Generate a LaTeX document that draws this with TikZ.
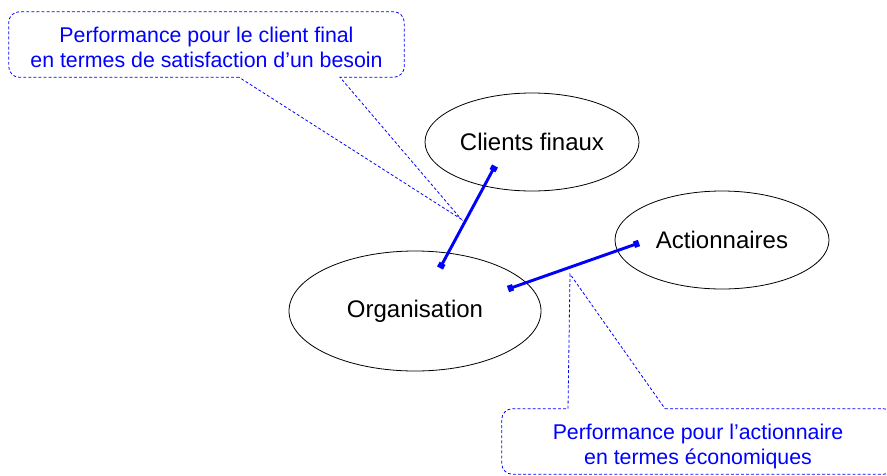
\documentclass[tikz,border=0pt]{standalone}
\usepackage{fontspec}
\setmainfont{Liberation Sans}
\usetikzlibrary{arrows.meta, calc, shapes.geometric}

\begin{document}
\begin{tikzpicture}[x=0.75pt, y=-0.75pt,
    actor/.style={draw, ellipse, line width=0.6pt, inner sep=0pt, font=\fontsize{18}{21.6}\selectfont},
    link/.style={draw=blue, line width=2.2pt, {Square[length=4pt,width=5pt]}-{Square[length=4pt,width=5pt]}},
    note/.style={text=blue, align=center, inner sep=0pt, font=\fontsize{16}{18.75}\selectfont},
    bubble/.style={draw=blue, line width=0.6pt, dash pattern=on 2.2pt off 1.6pt}]
    \useasboundingbox (0,0) rectangle (887,475);

    % les trois acteurs
    \node[actor, minimum width=160.5pt, minimum height=73.5pt] (clients) at (532,142) {Clients finaux};
    \node[actor, minimum width=189pt, minimum height=90pt] (org) at (415,311) {Organisation};
    \node[actor, minimum width=160.5pt, minimum height=73.5pt] (action) at (722,240) {Actionnaires};

    % relations
    \coordinate (org-cl) at ($(org.center)+(25,-43)$);
    \coordinate (cl-org) at ($(clients.center)+(-37,24)$);
    \coordinate (org-act) at ($(org.center)+(93,-22)$);
    \coordinate (act-org) at ($(action.center)+(-83,3)$);
    \draw[link] (org-cl) -- (cl-org);
    \draw[link] (org-act) -- (act-org);

    % bulles
    \node[note, minimum width=296.25pt, minimum height=48.75pt] (perf-client) at (206.5,44.5) {};
    \node[note] (perf-client-text) at (206.5,47) {Performance pour le client final\\en termes de satisfaction d’un besoin};
    \coordinate (perf-client-tip) at (461,219);
    \draw[bubble] ($(perf-client.south)+(32.5,0)$) [rounded corners=8pt] -| (perf-client.north west) -| (perf-client.south east)
        [sharp corners] -- ($(perf-client.south)+(133.5,0)$) -- (perf-client-tip) -- cycle;

    \node[note, minimum width=294pt, minimum height=48.75pt] (perf-action) at (698,441.5) {};
    \node[note] (perf-action-text) at (698,446) {Performance pour l’actionnaire\\en termes économiques};
    \coordinate (perf-action-tip) at (570,274);
    \draw[bubble] ($(perf-action.north)+(-33,0)$) [rounded corners=8pt] -| (perf-action.south east) -| (perf-action.north west)
        [sharp corners] -- ($(perf-action.north)+(-130,0)$) -- (perf-action-tip) -- cycle;
\end{tikzpicture}
\end{document}
